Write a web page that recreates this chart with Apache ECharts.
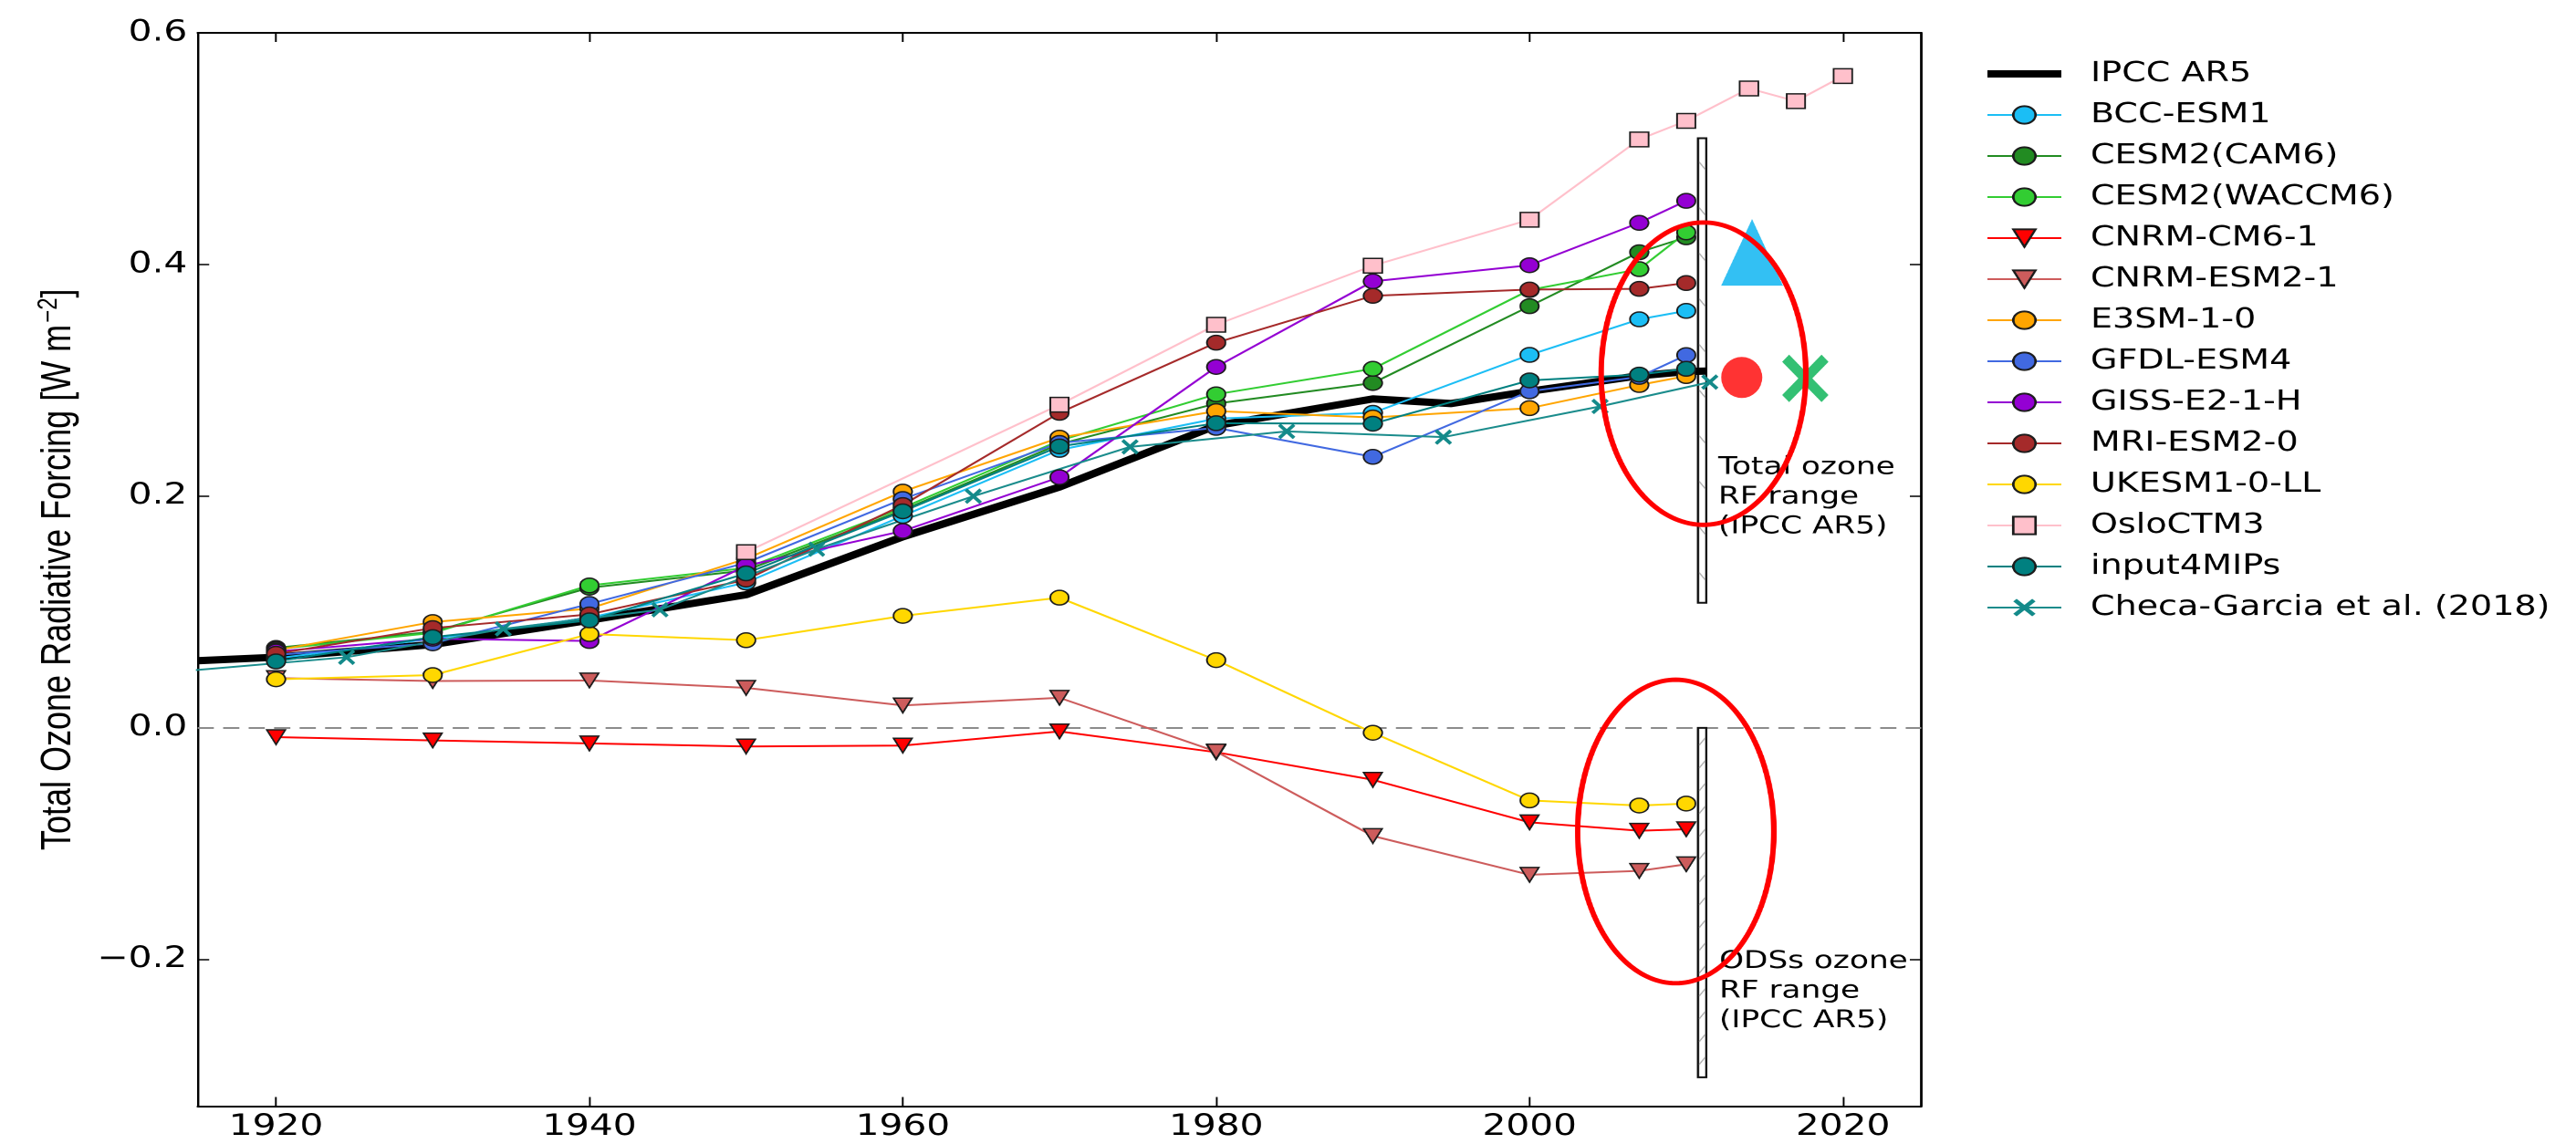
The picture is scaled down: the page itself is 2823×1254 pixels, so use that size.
<!DOCTYPE html>
<html><head><meta charset="utf-8">
<script src="https://cdn.jsdelivr.net/npm/echarts@6/dist/echarts.min.js"></script>
<style>
html,body{margin:0;padding:0;background:#fff;overflow:hidden;width:2823px;height:1254px}
#wrap{width:2823px;height:1254px;overflow:hidden}
#chart{width:2223px;height:1254px;transform:scaleX(1.2699);transform-origin:0 0}
</style></head><body><div id="wrap"><div id="chart"></div></div>
<script>
// ---------------- data ----------------
const modelYears = [1920, 1930, 1940, 1950, 1960, 1970, 1980, 1990, 2000, 2007, 2010];
const bccEsm1     = [0.060, 0.077, 0.095, 0.1255, 0.183, 0.240, 0.267, 0.272, 0.322, 0.3527, 0.360];
const cesm2Cam6   = [0.069, 0.083, 0.121, 0.136, 0.188, 0.245, 0.280, 0.2977, 0.364, 0.4106, 0.4235];
const cesm2Waccm6 = [0.068, 0.082, 0.123, 0.138, 0.190, 0.248, 0.288, 0.310, 0.378, 0.396, 0.4277];
const cnrmCm6     = [-0.008, -0.0108, -0.0134, -0.016, -0.0152, -0.003, -0.021, -0.0448, -0.0815, -0.0888, -0.0875];
const cnrmEsm2    = [0.043, 0.0405, 0.041, 0.0346, 0.0194, 0.026, -0.0204, -0.0933, -0.1268, -0.1234, -0.1177];
const e3sm10      = [0.067, 0.0914, 0.103, 0.146, 0.204, 0.2505, 0.2735, 0.268, 0.276, 0.296, 0.3037];
const gfdlEsm4    = [0.063, 0.073, 0.107, 0.1425, 0.1976, 0.246, 0.259, 0.234, 0.2906, 0.303, 0.3218];
const gissE21H    = [0.066, 0.077, 0.075, 0.140, 0.170, 0.2164, 0.3116, 0.3855, 0.3994, 0.436, 0.455];
const mriEsm20    = [0.064, 0.0862, 0.098, 0.128, 0.1924, 0.272, 0.3325, 0.373, 0.3784, 0.379, 0.384];
const ukesm10LL   = [0.042, 0.0456, 0.081, 0.0757, 0.0967, 0.1124, 0.0585, -0.0042, -0.0626, -0.067, -0.0653];
const input4mips  = [0.0574, 0.0784, 0.0928, 0.1334, 0.187, 0.243, 0.263, 0.2626, 0.300, 0.305, 0.310];

const osloYears  = [1950, 1970, 1980, 1990, 2000, 2007, 2010, 2014, 2017, 2020];
const osloCtm3   = [0.1517, 0.279, 0.348, 0.399, 0.4387, 0.508, 0.524, 0.552, 0.541, 0.5627];

const checaYears = [1914.5, 1924.5, 1934.5, 1944.5, 1954.5, 1964.5, 1974.5, 1984.5, 1994.5, 2004.5, 2011.5];
const checaGarcia = [0.0495, 0.061, 0.0855, 0.102, 0.1543, 0.200, 0.2426, 0.256, 0.251, 0.2775, 0.2985];

const ipccYears = [1915, 1920, 1930, 1940, 1950, 1960, 1970, 1980, 1990, 1995, 2000, 2007, 2010, 2011.3];
const ipccAr5   = [0.058, 0.061, 0.072, 0.093, 0.115, 0.165, 0.208, 0.261, 0.284, 0.280, 0.2906, 0.304, 0.3076, 0.308];

// IPCC AR5 range bars: [yearStart, yearEnd, low, high]
const rangeBars = [[2010.75, 2011.28, 0.108, 0.509], [2010.75, 2011.28, -0.3016, 0.0]];
const rangeLabelTexts = ['Total ozone\nRF range\n(IPCC AR5)', 'ODSs ozone\nRF range\n(IPCC AR5)'];
const rangeLabelPos = [[2012.04, 0.199], [2012.1, -0.2272]];

// annotations: ellipses [centerYear, centerValue, radiusYears, radiusValue]
const highlightEllipses = [[2011.1, 0.3058, 6.53, 0.1305], [2009.33, -0.0894, 6.26, 0.131]];
const annoTriangle = [[2014.2, 0.4105]];
const annoDot = [[2013.54, 0.3025]];
const annoCross = [[2017.6, 0.3017]];

const xTicks = [1920, 1940, 1960, 1980, 2000, 2020];
const yTicks = [-0.2, 0.0, 0.2, 0.4, 0.6];

// ---------------- chart ----------------
const CIRCLE = 'circle';
const TRI_DOWN = 'path://M0,0 L100,0 L50,100 Z';
const SQUARE = 'rect';
const XMARK = 'path://M0,15 L15,0 L50,35 L85,0 L100,15 L65,50 L100,85 L85,100 L50,65 L15,100 L0,85 L35,50 Z';
const ELLIPSE = 'path://M0,50 A50,50 0 1,1 100,50 A50,50 0 1,1 0,50 Z';

const zip = (xs, ys) => xs.map((x, i) => [x, ys[i]]);

function modelSeries(name, years, values, color, symbol, size, opts) {
  opts = opts || {};
  return {
    type: 'line', name: name, data: zip(years, values),
    symbol: symbol, symbolSize: size, showSymbol: true, showAllSymbol: true,
    lineStyle: { color: opts.lineColor || color, width: 2 },
    itemStyle: { color: color, borderColor: opts.noBorder ? color : '#1c1c1c', borderWidth: opts.noBorder ? 0 : 1.5 },
    emphasis: { disabled: true }, silent: true, clip: true, z: 3
  };
}

const series = [];
series.push({
  type: 'custom', name: 'rangeBars', data: rangeBars, silent: true, z: 2,
  encode: { x: [0, 1], y: [2, 3] },
  renderItem: function (params, api) {
    const i = params.dataIndex;
    const tl = api.coord([api.value(0), api.value(3)]);
    const br = api.coord([api.value(1), api.value(2)]);
    const w = br[0] - tl[0], h = br[1] - tl[1];
    const children = [{ type: 'rect', shape: { x: tl[0], y: tl[1], width: w, height: h },
      style: { fill: '#fff', stroke: '#111', lineWidth: 2 } }];
    const spacing = i === 0 ? 50 : 25;
    const dir = i === 0 ? 1 : -1;
    for (let y = tl[1] + spacing * 0.6; y < br[1] - 4; y += spacing) {
      children.push({ type: 'line', shape: { x1: tl[0] + 1, y1: y - dir * 4, x2: br[0] - 1, y2: y + dir * 4 },
        style: { stroke: '#b0b0b0', lineWidth: 1.2 } });
    }
    return { type: 'group', children: children };
  }
});
series.push({
  type: 'line', name: 'IPCC AR5', data: zip(ipccYears, ipccAr5), symbol: 'none', showSymbol: false,
  lineStyle: { color: '#000', width: 8 }, itemStyle: { color: '#000' }, emphasis: { disabled: true }, silent: true, z: 2,
  markLine: { silent: true, symbol: ['none', 'none'], label: { show: false },
    lineStyle: { color: '#8c8c8c', width: 2, type: [14, 8] }, data: [{ yAxis: 0 }], z: 1 }
});
series.push(modelSeries('BCC-ESM1', modelYears, bccEsm1, '#1BBEF5', CIRCLE, 16));
series.push(modelSeries('CESM2(CAM6)', modelYears, cesm2Cam6, '#228B22', CIRCLE, 16));
series.push(modelSeries('CESM2(WACCM6)', modelYears, cesm2Waccm6, '#32CD32', CIRCLE, 16));
series.push(modelSeries('CNRM-CM6-1', modelYears, cnrmCm6, '#FF0000', TRI_DOWN, 16));
series.push(modelSeries('CNRM-ESM2-1', modelYears, cnrmEsm2, '#CD5C5C', TRI_DOWN, 16));
series.push(modelSeries('E3SM-1-0', modelYears, e3sm10, '#FFA500', CIRCLE, 16));
series.push(modelSeries('GFDL-ESM4', modelYears, gfdlEsm4, '#4169E1', CIRCLE, 16));
series.push(modelSeries('GISS-E2-1-H', modelYears, gissE21H, '#9400D3', CIRCLE, 16));
series.push(modelSeries('MRI-ESM2-0', modelYears, mriEsm20, '#A52A2A', CIRCLE, 16));
series.push(modelSeries('UKESM1-0-LL', modelYears, ukesm10LL, '#FFD700', CIRCLE, 16));
series.push(modelSeries('OsloCTM3', osloYears, osloCtm3, '#FFC0CB', SQUARE, 16));
series.push(modelSeries('input4MIPs', modelYears, input4mips, '#008080', CIRCLE, 16));
series.push(modelSeries('Checa-Garcia et al. (2018)', checaYears, checaGarcia, '#138A8A', XMARK, [15, 17], { noBorder: true, lineColor: '#1A8C8C' }));

series.push({
  type: 'custom', name: 'rangeLabels', data: rangeLabelPos, silent: true, z: 4,
  renderItem: function (params, api) {
    const p = api.coord([api.value(0), api.value(1)]);
    return { type: 'text', x: p[0], y: p[1],
      style: { text: rangeLabelTexts[params.dataIndex], fill: '#000', fontSize: 27, fontFamily: 'DejaVu Sans',
        align: 'left', verticalAlign: 'middle', lineHeight: 32.5 } };
  }
});
series.push({
  type: 'custom', name: 'highlight', data: highlightEllipses, silent: true, z: 10,
  renderItem: function (params, api) {
    const c = api.coord([api.value(0), api.value(1)]);
    const s = api.size([api.value(2), api.value(3)]);
    const pts = [];
    for (let k = 0; k < 180; k++) {
      const t = 2 * Math.PI * k / 180;
      pts.push([c[0] + s[0] * Math.cos(t), c[1] + s[1] * Math.sin(t)]);
    }
    return { type: 'polygon', shape: { points: pts }, style: { fill: 'none', stroke: '#FF0000', lineWidth: 4.8 } };
  }
});
series.push({ type: 'scatter', name: 'annoTriangle', data: annoTriangle, symbol: 'triangle', symbolSize: [53.3, 73],
  itemStyle: { color: '#00B0F0' }, silent: true, z: 9 });
series.push({ type: 'scatter', name: 'annoDot', data: annoDot, symbol: ELLIPSE, symbolSize: [35.4, 45],
  itemStyle: { color: '#FF0000' }, silent: true, z: 9 });
series.push({ type: 'scatter', name: 'annoCross', data: annoCross, symbol: XMARK, symbolSize: [40, 52],
  itemStyle: { color: '#00B050' }, silent: true, z: 9 });

const legendNames = [
  { name: 'IPCC AR5', icon: 'path://M0,0 L73,0 L73,9 L0,9 Z' },
  'BCC-ESM1', 'CESM2(CAM6)', 'CESM2(WACCM6)', 'CNRM-CM6-1', 'CNRM-ESM2-1', 'E3SM-1-0', 'GFDL-ESM4',
  'GISS-E2-1-H', 'MRI-ESM2-0', 'UKESM1-0-LL', 'OsloCTM3', 'input4MIPs', 'Checa-Garcia et al. (2018)'
];

const axisCommonX = { type: 'value', min: 1915, max: 2025, splitLine: { show: false } };
const axisCommonY = { type: 'value', min: -0.3265, max: 0.6, splitLine: { show: false } };
const axisLine = { show: true, onZero: false, lineStyle: { color: '#000', width: 2 } };
const tickFont = { fontFamily: 'DejaVu Sans', fontSize: 32, color: '#000' };

const option = {
  animation: false,
  backgroundColor: '#fff',
  grid: { left: 170.6, top: 36, width: 1487.4, height: 1176.5, containLabel: false },
  xAxis: [
    Object.assign({}, axisCommonX, { position: 'bottom', axisLine: axisLine,
      axisTick: { show: true, inside: true, length: 10, customValues: xTicks, lineStyle: { color: '#000', width: 1.5 } },
      axisLabel: Object.assign({ show: true, margin: 7, customValues: xTicks, formatter: v => String(Math.round(v)) }, tickFont) }),
    Object.assign({}, axisCommonX, { position: 'top', axisLine: axisLine,
      axisTick: { show: true, inside: true, length: 10, customValues: xTicks, lineStyle: { color: '#000', width: 1.5 } },
      axisLabel: { show: false } })
  ],
  yAxis: [
    Object.assign({}, axisCommonY, { position: 'left', axisLine: axisLine,
      axisTick: { show: true, inside: true, length: 10, customValues: yTicks, lineStyle: { color: '#000', width: 1.5 } },
      axisLabel: Object.assign({ show: true, margin: 9, customValues: yTicks,
        formatter: v => (v < -1e-9 ? '\u2212' : '') + Math.abs(v).toFixed(1) }, tickFont),
      name: 'Total Ozone Radiative Forcing [W m{sup|\u22122}]', nameLocation: 'middle', nameRotate: 90, nameGap: 100,
      nameTextStyle: { fontFamily: 'Liberation Sans', fontSize: 36, color: '#000',
        rich: { sup: { fontFamily: 'Liberation Sans', fontSize: 24, color: '#000', verticalAlign: 'top', padding: [0, 0, 16, 2] } } } }),
    Object.assign({}, axisCommonY, { position: 'right', axisLine: axisLine,
      axisTick: { show: true, inside: true, length: 10, customValues: yTicks, lineStyle: { color: '#000', width: 1.5 } },
      axisLabel: { show: false } })
  ],
  legend: {
    orient: 'vertical', left: 1709, top: 61, itemWidth: 64, itemHeight: 24, itemGap: 15,
    selectedMode: false, data: legendNames,
    textStyle: { fontFamily: 'DejaVu Sans', fontSize: 30, color: '#000', padding: [0, 0, 0, 20] }
  },
  series: series
};

const chart = echarts.init(document.getElementById('chart'), null, { renderer: 'canvas', devicePixelRatio: 2 });
chart.setOption(option);
</script>
</body></html>
